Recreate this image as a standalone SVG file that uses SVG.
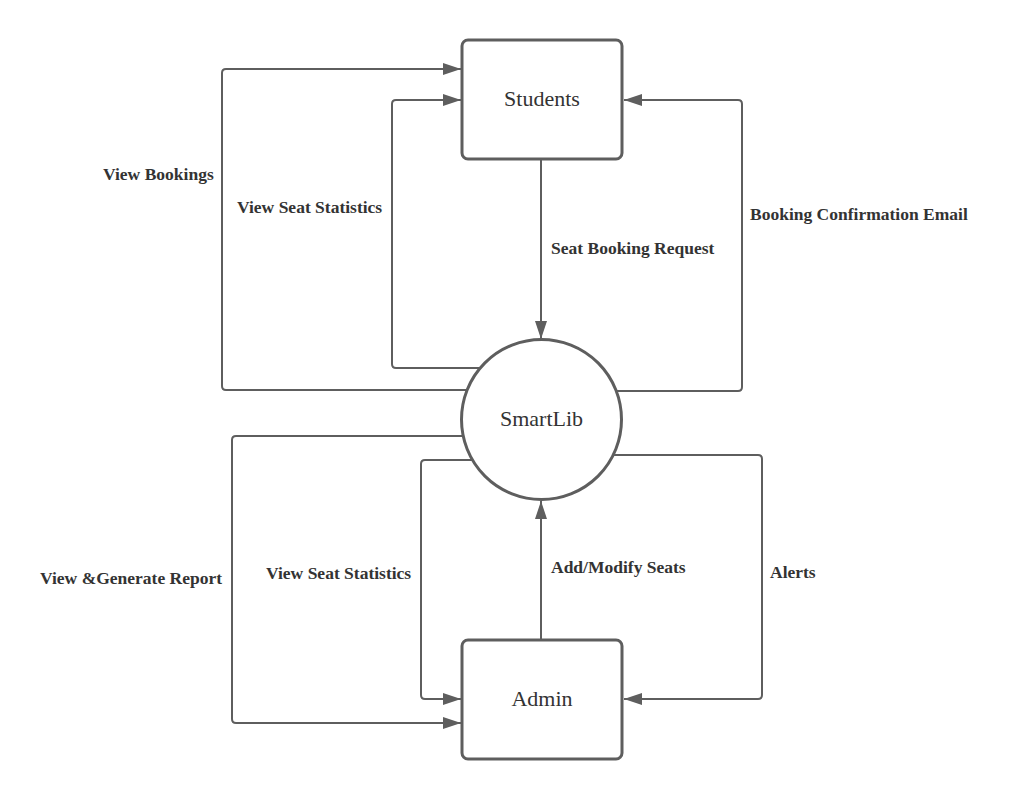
<svg xmlns="http://www.w3.org/2000/svg" width="1011" height="800" viewBox="0 0 1011 800">
<style>
.node{fill:#fff;stroke:#5e5e5e;stroke-width:3}
.conn{fill:none;stroke:#5e5e5e;stroke-width:2;stroke-linejoin:round}
.name{font-family:"Liberation Serif",serif;font-size:22px;fill:#333;text-anchor:middle}
.lbl{font-family:"Liberation Serif",serif;font-size:17.5px;font-weight:bold;fill:#333}
</style>
<defs>
<marker id="arr" markerUnits="userSpaceOnUse" markerWidth="18" markerHeight="12" refX="18" refY="6" orient="auto">
<path d="M0,0 L18,6 L0,12 z" fill="#5e5e5e"/>
</marker>
</defs>
<rect width="1011" height="800" fill="#fff"/>
<g id="connectors">
<path class="conn" marker-end="url(#arr)" d="M470,390 H226 Q222,390 222,386 V73 Q222,69 226,69 H461"/>
<path class="conn" marker-end="url(#arr)" d="M482,368 H396 Q392,368 392,364 V104 Q392,100 396,100 H461"/>
<path class="conn" marker-end="url(#arr)" d="M541,160 V339"/>
<path class="conn" marker-end="url(#arr)" d="M614,391 H738 Q742,391 742,387 V104 Q742,100 738,100 H624"/>
<path class="conn" marker-end="url(#arr)" d="M466,436 H236 Q232,436 232,440 V719 Q232,723 236,723 H461"/>
<path class="conn" marker-end="url(#arr)" d="M475,460 H425 Q421,460 421,464 V695 Q421,699 425,699 H461"/>
<path class="conn" marker-end="url(#arr)" d="M541,639 V501"/>
<path class="conn" marker-end="url(#arr)" d="M611,455 H758 Q762,455 762,459 V695 Q762,699 758,699 H624"/>
<text class="lbl" x="103" y="180">View Bookings</text>
<text class="lbl" x="237" y="213">View Seat Statistics</text>
<text class="lbl" x="551" y="254">Seat Booking Request</text>
<text class="lbl" x="750" y="220">Booking Confirmation Email</text>
<text class="lbl" x="40" y="584">View &amp;Generate Report</text>
<text class="lbl" x="266" y="579">View Seat Statistics</text>
<text class="lbl" x="551" y="573">Add/Modify Seats</text>
<text class="lbl" x="770" y="578">Alerts</text>
</g>
<g id="students">
<rect class="node" x="462" y="40" width="160" height="119" rx="6"/>
<text class="name" x="542" y="106">Students</text>
</g>
<g id="smartlib">
<circle class="node" cx="541.5" cy="419.5" r="80"/>
<text class="name" x="541.5" y="426">SmartLib</text>
</g>
<g id="admin">
<rect class="node" x="462" y="640" width="160" height="119" rx="6"/>
<text class="name" x="542" y="706">Admin</text>
</g>
</svg>
